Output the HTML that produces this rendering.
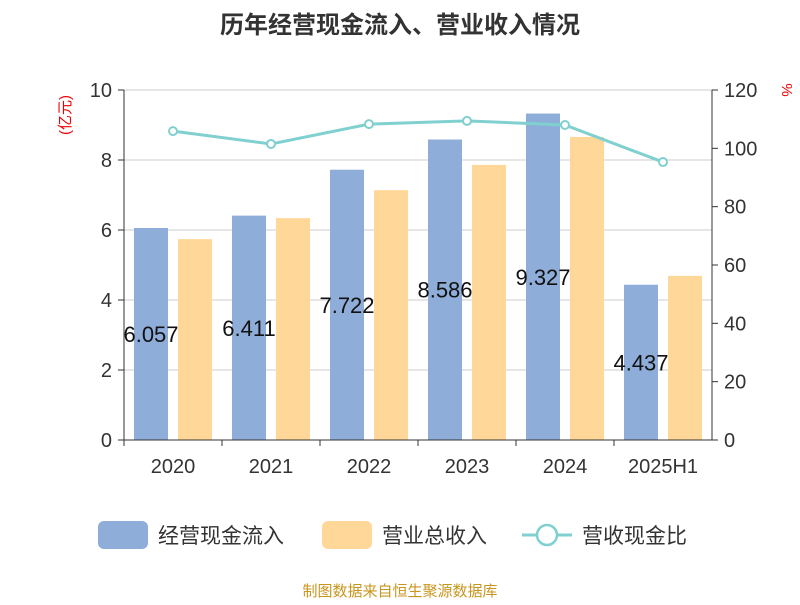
<!DOCTYPE html>
<html><head><meta charset="utf-8"><style>
body{margin:0;background:#fff;font-family:"Liberation Sans","Noto Sans CJK SC",sans-serif}
svg text{font-family:"Liberation Sans","Noto Sans CJK SC",sans-serif}
</style></head><body>
<svg id="c" width="800" height="600">
<text x="400" y="33" text-anchor="middle" font-size="24" font-weight="bold" fill="#333">历年经营现金流入、营业收入情况</text>
<text x="0" y="0" transform="translate(70,115) rotate(-90)" text-anchor="middle" font-size="15" fill="#e00">(亿元)</text>
<text x="0" y="0" transform="translate(782,90) rotate(90)" text-anchor="middle" font-size="15" fill="#e00">%</text>
<g id="grid"></g><g id="bars"></g><g id="line"></g><g id="axes"></g>
<g>
<rect x="98" y="521" width="50" height="28" rx="6" fill="#8eadd9"/>
<text x="158" y="543" font-size="21" fill="#333">经营现金流入</text>
<rect x="322" y="521" width="50" height="28" rx="6" fill="#ffd899"/>
<text x="382" y="543" font-size="21" fill="#333">营业总收入</text>
<line x1="522" y1="535" x2="572" y2="535" stroke="#80d0d0" stroke-width="3"/>
<circle cx="547" cy="535" r="10" fill="#fff" stroke="#80d0d0" stroke-width="2.5"/>
<text x="582" y="543" font-size="21" fill="#333">营收现金比</text>
</g>
<text x="400" y="596" text-anchor="middle" font-size="15" fill="#c8961e">制图数据来自恒生聚源数据库</text>
</svg>
<script>
const categories=["2020","2021","2022","2023","2024","2025H1"];
const cashInflow=[6.057,6.411,7.722,8.586,9.327,4.437];
const revenue=[5.74,6.34,7.14,7.86,8.66,4.69];
const ratio=[105.9,101.5,108.3,109.4,108.0,95.3];
const leftTicks=[0,2,4,6,8,10];
const rightTicks=[0,20,40,60,80,100,120];
const NS="http://www.w3.org/2000/svg";
const X0=124,X1=712,Y0=440,Y1=90;
const band=(X1-X0)/categories.length;
const yL=v=>Y0-(v/10)*(Y0-Y1);
const yR=v=>Y0-(v/120)*(Y0-Y1);
function mk(p,t,a){const e=document.createElementNS(NS,t);for(const k in a)e.setAttribute(k,a[k]);p.appendChild(e);return e;}
const G=document.getElementById('grid'),B=document.getElementById('bars'),L=document.getElementById('line'),A=document.getElementById('axes');
leftTicks.forEach(v=>{
 const l=mk(G,'line',{x1:X0,x2:X1,y1:yL(v),y2:yL(v),stroke:'#ccc','stroke-width':1});
 
 
 const t=mk(A,'text',{x:X0-12,y:yL(v)+7,'text-anchor':'end','font-size':20,fill:'#333'});t.textContent=v;
 
 
 mk(A,'line',{x1:X0-6,x2:X0,y1:yL(v),y2:yL(v),stroke:'#333'});
});
rightTicks.forEach(v=>{
 const t=mk(A,'text',{x:X1+12,y:yR(v)+7,'font-size':20,fill:'#333'});t.textContent=v;
 
 
 mk(A,'line',{x1:X1,x2:X1+6,y1:yR(v),y2:yR(v),stroke:'#333'});
});
mk(A,'line',{x1:X0,x2:X0,y1:Y1,y2:Y0,stroke:'#333'});
mk(A,'line',{x1:X1,x2:X1,y1:Y1,y2:Y0,stroke:'#333'});
mk(A,'line',{x1:X0,x2:X1,y1:Y0,y2:Y0,stroke:'#333'});
const pts=[];
categories.forEach((c,i)=>{
 const cx=X0+band*i+band/2;
 mk(A,'line',{x1:X0+band*i,x2:X0+band*i,y1:Y0,y2:Y0+6,stroke:'#333'});
 const t=mk(A,'text',{x:cx,y:Y0+33,'text-anchor':'middle','font-size':20,fill:'#333'});t.textContent=c;
 
 
 const b1=mk(B,'rect',{x:cx-39,y:yL(cashInflow[i]),width:34,height:Y0-yL(cashInflow[i]),fill:'#8eadd9'});
 
 
 const b2=mk(B,'rect',{x:cx+5,y:yL(revenue[i]),width:34,height:Y0-yL(revenue[i]),fill:'#ffd899'});
 
 
 const lb=mk(L,'text',{x:cx-22,y:(yL(cashInflow[i])+Y0)/2+8,'text-anchor':'middle','font-size':22,fill:'#111'});lb.textContent=cashInflow[i].toFixed(3);
 
 
 pts.push([cx,yR(ratio[i])]);
});
const pl=mk(L,'polyline',{points:pts.map(p=>p.join(',')).join(' '),fill:'none',stroke:'#80d0d0','stroke-width':3});


pts.forEach((p,i)=>{const c=mk(L,'circle',{cx:p[0],cy:p[1],r:4,fill:'#fff',stroke:'#80d0d0','stroke-width':2});
 
 });
</script>
</body></html>
